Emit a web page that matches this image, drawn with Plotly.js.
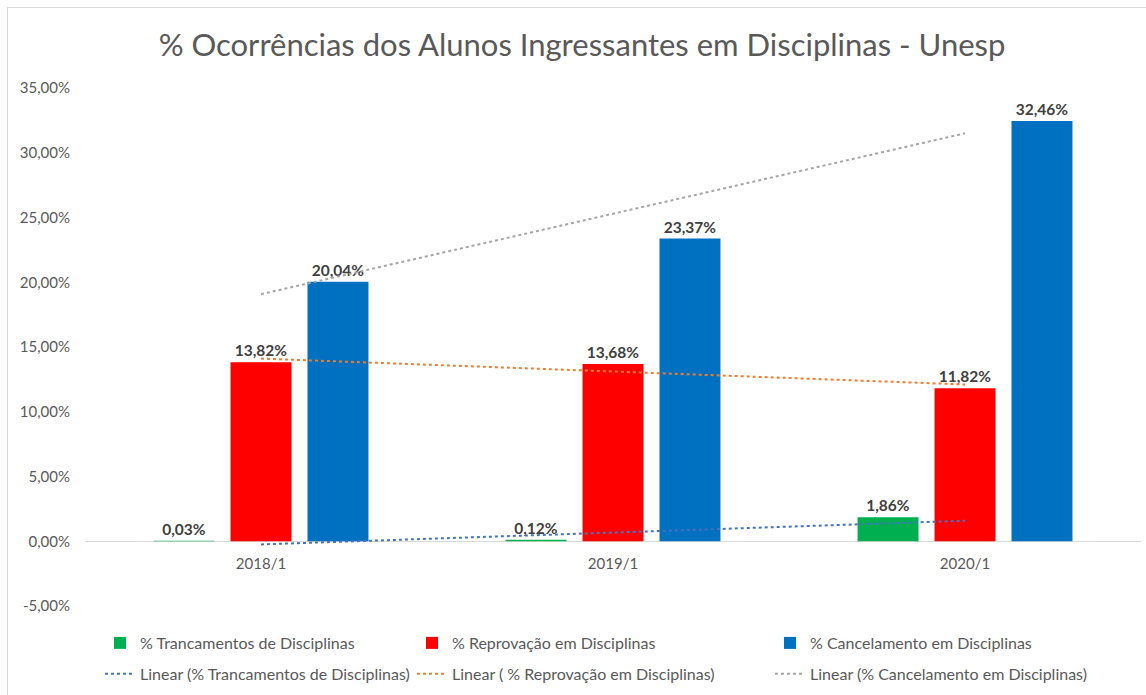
<!DOCTYPE html>
<html>
<head>
<meta charset="utf-8">
<script src="https://cdn.plot.ly/plotly-3.0.1.min.js"></script>
<style>
  html, body { margin: 0; padding: 0; background: #ffffff; }
  #wrap { position: relative; width: 1146px; height: 695px; overflow: hidden; }
  #frame { position: absolute; left: 7px; top: 7px; width: 1160px; height: 720px; border: 1px solid #d9d9d9; box-sizing: border-box; }
  #chart { position: absolute; left: 0; top: 0; width: 1146px; height: 695px; }
</style>
</head>
<body>
<div id="wrap">
  <div id="frame"></div>
  <div id="chart"></div>
</div>
<script>
// ---- data ----
const categories = ['2018/1', '2019/1', '2020/1'];
const trancamentos = [0.03, 0.12, 1.86];
const reprovacao = [13.82, 13.68, 11.82];
const cancelamento = [20.04, 23.37, 32.46];
const yTicks = [-5, 0, 5, 10, 15, 20, 25, 30, 35];

const seriesNames = ['% Trancamentos de Disciplinas', '% Reprovação em Disciplinas', '% Cancelamento em Disciplinas'];
const trendNames = ['Linear (% Trancamentos de Disciplinas)', 'Linear ( % Reprovação em Disciplinas)', 'Linear (% Cancelamento em Disciplinas)'];
const barColors = ['#00B050', '#FF0000', '#0070C0'];
const trendColors = ['#4472C4', '#ED7D31', '#A5A5A5'];

// least-squares linear trend (like Excel's linear trendline) computed from the series
function linearFit(vals) {
  const n = vals.length;
  const xs = vals.map((_, i) => i + 1);
  const mx = xs.reduce((a, b) => a + b, 0) / n;
  const my = vals.reduce((a, b) => a + b, 0) / n;
  let num = 0, den = 0;
  for (let i = 0; i < n; i++) { num += (xs[i] - mx) * (vals[i] - my); den += (xs[i] - mx) ** 2; }
  const slope = num / den;
  const icpt = my - slope * mx;
  return xs.map(x => icpt + slope * x);
}
const fmtPct = v => v.toFixed(2).replace('.', ',') + '%';

const seriesVals = [trancamentos, reprovacao, cancelamento];
const FONT = 'Lato, "Liberation Sans", Arial, sans-serif';
const legendIds = ['legend', 'legend2', 'legend3'];

const traces = [];
seriesVals.forEach((vals, i) => {
  traces.push({
    type: 'bar', x: categories, y: vals, name: seriesNames[i],
    marker: { color: barColors[i] },
    text: vals.map(fmtPct), texttemplate: '%{text}', textposition: 'outside', cliponaxis: false,
    constraintext: 'none',
    textfont: { family: FONT, size: 15.5, color: '#404040', weight: 'bold' },
    legend: legendIds[i], legendgroup: 'b' + i, hoverinfo: 'skip'
  });
});
seriesVals.forEach((vals, i) => {
  traces.push({
    type: 'scatter', mode: 'lines', x: categories, y: linearFit(vals), name: trendNames[i],
    line: { color: trendColors[i], width: 2, dash: 'dot' },
    legend: legendIds[i], legendgroup: 't' + i, hoverinfo: 'skip', cliponaxis: false
  });
});

// plot area: x 85..1141, y 88..606 (px)
const legendX = [100, 412, 770];
const legendBase = {
  orientation: 'v', xref: 'paper', yref: 'paper', xanchor: 'left', yanchor: 'top',
  y: (606 - 626) / 518, bgcolor: 'rgba(0,0,0,0)', traceorder: 'grouped', tracegroupgap: 7,
  font: { family: FONT, size: 16, color: '#595959' }, itemwidth: 30
};

const layout = {
  width: 1146, height: 695,
  paper_bgcolor: 'rgba(0,0,0,0)', plot_bgcolor: 'rgba(0,0,0,0)',
  margin: { l: 85, r: 5, t: 88, b: 89, pad: 0, autoexpand: false },
  separators: ',.',
  font: { family: FONT, color: '#595959' },
  title: {
    text: '% Ocorrências dos Alunos Ingressantes em Disciplinas - Unesp',
    font: { family: FONT, size: 31, color: '#595959' },
    x: 582 / 1146, xanchor: 'center', xref: 'container', y: 1 - 45 / 695, yanchor: 'middle', yref: 'container'
  },
  barmode: 'group', bargap: 0.344, bargroupgap: 0.208,
  xaxis: {
    type: 'category', automargin: false,
    showline: false, showgrid: false, zeroline: false,
    ticks: '', tickangle: 0, tickfont: { family: FONT, size: 15, color: '#595959' }, ticklabelstandoff: -53
  },
  yaxis: {
    range: [-5, 35], tickmode: 'array', tickvals: yTicks, ticktext: yTicks.map(fmtPct),
    showgrid: false, zeroline: true, zerolinecolor: '#d9d9d9', zerolinewidth: 1, showline: false,
    ticks: '', tickfont: { family: FONT, size: 15, color: '#595959' }, ticklabelstandoff: 14, automargin: false
  },
  showlegend: true
};
legendIds.forEach((id, i) => {
  layout[id] = Object.assign({}, legendBase, { x: (legendX[i] - 85) / 1056 });
});

Plotly.newPlot('chart', traces, layout, { displayModeBar: false, staticPlot: true });
</script>
</body>
</html>
